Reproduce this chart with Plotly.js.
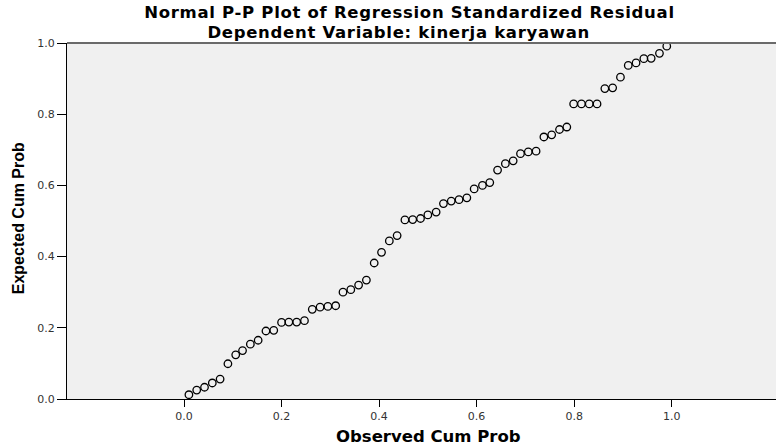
<!DOCTYPE html>
<html>
<head>
<meta charset="utf-8">
<script src="https://cdn.plot.ly/plotly-3.0.1.min.js"></script>
<style>
html,body{margin:0;padding:0;background:#fff;}
#chart{width:776px;height:446px;}
.annotation[data-index="0"] .annotation-text,
.annotation[data-index="1"] .annotation-text{letter-spacing:0.7px;}
</style>
</head>
<body>
<div id="chart"></div>
<script>
// Observed cumulative probability (x) and expected cumulative probability (y)
var observedCumProb = [
  0.010, 0.026, 0.042, 0.058, 0.074, 0.090, 0.106, 0.120, 0.136, 0.152,
  0.168, 0.184, 0.200, 0.215, 0.231, 0.247, 0.263, 0.279, 0.295, 0.311,
  0.326, 0.342, 0.358, 0.374, 0.390, 0.405, 0.421, 0.437, 0.453, 0.469,
  0.485, 0.500, 0.517, 0.532, 0.548, 0.564, 0.580, 0.595, 0.612, 0.627,
  0.643, 0.659, 0.675, 0.690, 0.706, 0.722, 0.738, 0.754, 0.770, 0.785,
  0.799, 0.815, 0.831, 0.847, 0.863, 0.879, 0.895, 0.911, 0.927, 0.943,
  0.958, 0.975, 0.990
];
var expectedCumProb = [
  0.012, 0.025, 0.033, 0.045, 0.056, 0.099, 0.124, 0.136, 0.154, 0.165,
  0.191, 0.193, 0.215, 0.216, 0.216, 0.220, 0.252, 0.258, 0.260, 0.262,
  0.300, 0.307, 0.320, 0.334, 0.382, 0.412, 0.444, 0.459, 0.503, 0.504,
  0.507, 0.517, 0.525, 0.549, 0.556, 0.560, 0.565, 0.590, 0.600, 0.608,
  0.643, 0.661, 0.669, 0.689, 0.694, 0.696, 0.736, 0.742, 0.757, 0.764,
  0.829, 0.829, 0.829, 0.829, 0.872, 0.874, 0.904, 0.937, 0.944, 0.956,
  0.957, 0.971, 0.991
];
var tickValues = [0, 0.2, 0.4, 0.6, 0.8, 1.0];
var tickLabels = ['0.0', '0.2', '0.4', '0.6', '0.8', '1.0'];

var chartTitle1 = 'Normal P-P Plot of Regression Standardized Residual';
var chartTitle2 = 'Dependent Variable: kinerja karyawan';
var xTitle = 'Observed Cum Prob';
var yTitle = 'Expected Cum Prob';

var WIDE = 'DejaVu Sans, Verdana, sans-serif';
var ARIAL = 'Liberation Sans, Arial, sans-serif';

var trace = {
  type: 'scatter',
  mode: 'markers',
  x: observedCumProb,
  y: expectedCumProb,
  marker: {symbol: 'circle-open', size: 7.5, color: '#000', line: {width: 1.3, color: '#000'}},
  hoverinfo: 'x+y',
  showlegend: false
};

var layout = {
  width: 776, height: 446,
  margin: {l: 67, r: 0, t: 43, b: 47, pad: 0},
  paper_bgcolor: '#ffffff',
  plot_bgcolor: '#f0f0f0',
  font: {family: WIDE, size: 11, color: '#222'},
  xaxis: {
    range: [-0.24, 1.214],
    tickvals: tickValues, ticktext: tickLabels,
    ticks: 'outside', ticklen: 7, tickwidth: 1, tickcolor: '#000',
    showline: true, linecolor: '#000', linewidth: 1,
    showgrid: false, zeroline: false,
    tickfont: {family: WIDE, size: 11, color: '#333'}
  },
  yaxis: {
    range: [0, 1],
    tickvals: tickValues, ticktext: tickLabels,
    ticks: 'outside', ticklen: 9, tickwidth: 1, tickcolor: '#000',
    showline: true, linecolor: '#000', linewidth: 1,
    showgrid: false, zeroline: false,
    tickfont: {family: WIDE, size: 11, color: '#333'}
  },
  shapes: [
    {type: 'line', xref: 'paper', yref: 'paper', x0: 0, x1: 1, y0: 1, y1: 1,
     line: {color: '#6a6a6a', width: 2}}
  ],
  annotations: [
    {text: '<b>' + chartTitle1 + '</b>', xref: 'paper', yref: 'paper', x: 0.4824, y: 1.0843,
     xanchor: 'center', yanchor: 'middle', showarrow: false, font: {family: WIDE, size: 16.5, color: '#000'}},
    {text: '<b>' + chartTitle2 + '</b>', xref: 'paper', yref: 'paper', x: 0.468, y: 1.0281,
     xanchor: 'center', yanchor: 'middle', showarrow: false, font: {family: WIDE, size: 16.5, color: '#000'}},
    {text: '<b>' + xTitle + '</b>', xref: 'paper', yref: 'paper', x: 0.51, y: -0.104,
     xanchor: 'center', yanchor: 'middle', showarrow: false, font: {family: WIDE, size: 16.5, color: '#000'}},
    {text: '<b>' + yTitle + '</b>', xref: 'paper', yref: 'paper', x: -0.069, y: 0.508,
     xanchor: 'center', yanchor: 'middle', textangle: -90, showarrow: false, font: {family: ARIAL, size: 16, color: '#000'}}
  ]
};

Plotly.newPlot('chart', [trace], layout, {displayModeBar: false, staticPlot: true});
</script>
</body>
</html>
